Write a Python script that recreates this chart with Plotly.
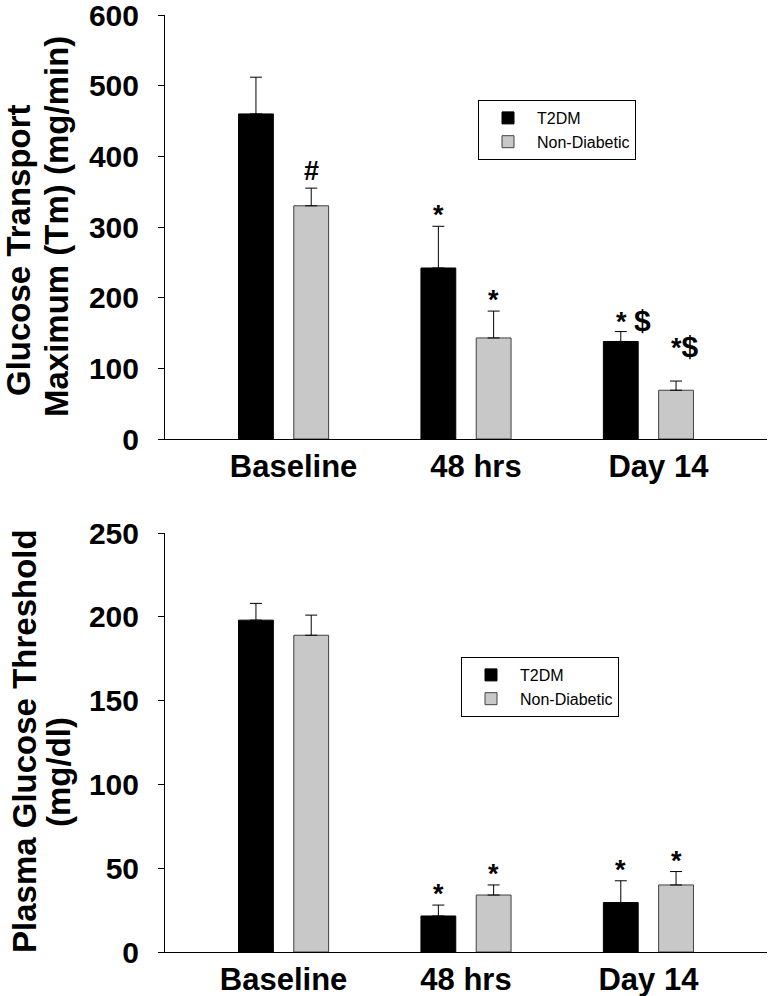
import plotly.graph_objects as go

# ---------------- data ----------------
categories = ["Baseline", "48 hrs", "Day 14"]

tm_t2dm = [460, 242, 138]
tm_t2dm_err = [52, 59, 14]
tm_nd = [330, 143, 69]
tm_nd_err = [25, 38, 13]
tm_t2dm_sig = ["", "*", "* $"]
tm_nd_sig = ["#", "*", "*$"]

pgt_t2dm = [198, 21.5, 29.5]
pgt_t2dm_err = [10, 6.5, 13]
pgt_nd = [189, 34, 40]
pgt_nd_err = [12, 6, 8]
pgt_t2dm_sig = ["", "*", "*"]
pgt_nd_sig = ["", "*", "*"]

tm_ticks = [0, 100, 200, 300, 400, 500, 600]
pgt_ticks = [0, 50, 100, 150, 200, 250]

tm_title = ["Glucose Transport", "Maximum (Tm) (mg/min)"]
pgt_title = ["Plasma Glucose Threshold", "(mg/dl)"]

# ---------------- style ----------------
FONT = "Arial, 'Liberation Sans', sans-serif"
BLACK = "#000000"
GRAY = "#c8c8c8"
GRAY_LINE = "#404040"
W, H = 773, 996
BARGAP = 0.394
BARGROUPGAP = 0.37
SLOT = (1 - BARGAP) / 2
xpos = list(range(len(categories)))

fig = go.Figure()


def add_bars(vals, errs, name, color, line_color, xa, ya, legend):
    fig.add_trace(go.Bar(
        x=xpos, y=vals, name=name, xaxis=xa, yaxis=ya, legend=legend,
        marker=dict(color=color, line=dict(color=line_color, width=1)),
        error_y=dict(type="data", array=errs, arrayminus=[0] * len(errs),
                     symmetric=False, color="black", thickness=1, width=6),
    ))


add_bars(tm_t2dm, tm_t2dm_err, "T2DM", BLACK, BLACK, "x", "y", "legend")
add_bars(tm_nd, tm_nd_err, "Non-Diabetic", GRAY, GRAY_LINE, "x", "y", "legend")
add_bars(pgt_t2dm, pgt_t2dm_err, "T2DM", BLACK, BLACK, "x2", "y2", "legend2")
add_bars(pgt_nd, pgt_nd_err, "Non-Diabetic", GRAY, GRAY_LINE, "x2", "y2", "legend2")


def add_sig(labels, vals, errs, side, xref, yref, extra=None):
    for i, lab in enumerate(labels):
        if not lab:
            continue
        txt = lab.replace(" ", "&nbsp;").replace(
            "$", "<span style='font-size:30px'>$</span>")
        ys = 11 if lab.startswith("*") else 17
        if extra:
            ys += extra[i]
        xs = 0
        if "$" in lab:
            xs = 13 if " " in lab else 9
        fig.add_annotation(
            x=i + side * SLOT / 2, y=vals[i] + errs[i], xref=xref, yref=yref,
            text=f"<b>{txt}</b>", showarrow=False, yanchor="middle",
            xanchor="center", yshift=ys, xshift=xs,
            font=dict(family=FONT, size=27, color="black"),
        )


add_sig(tm_t2dm_sig, tm_t2dm, tm_t2dm_err, -1, "x", "y")
add_sig(tm_nd_sig, tm_nd, tm_nd_err, +1, "x", "y", extra=[0, 0, 24])
add_sig(pgt_t2dm_sig, pgt_t2dm, pgt_t2dm_err, -1, "x2", "y2")
add_sig(pgt_nd_sig, pgt_nd, pgt_nd_err, +1, "x2", "y2")


# y-axis titles (two lines each, drawn as rotated text)
def add_title(lines, centers):
    for line, (cx, cy) in zip(lines, centers):
        fig.add_annotation(
            x=cx / W, y=1 - cy / H, xref="paper", yref="paper", showarrow=False,
            text=f"<b>{line}</b>", textangle=-90, xanchor="center",
            yanchor="middle", font=dict(family=FONT, size=33, color="black"),
        )


add_title(tm_title, [(18, 250), (57, 227)])
add_title(pgt_title, [(24, 741), (58, 772)])

xdom = [165 / W, 767 / W]
xaxis_common = dict(
    range=[-0.65, 2.65], tickvals=xpos, ticktext=[f"<b>{c}</b>" for c in categories],
    showline=True, linecolor="black", linewidth=1, ticks="", showgrid=False,
    zeroline=False, tickfont=dict(family=FONT, size=31, color="black"),
    automargin=False, domain=xdom, fixedrange=True,
)
yaxis_common = dict(
    showline=True, linecolor="black", linewidth=1, ticks="outside", ticklen=6,
    tickcolor="black", showgrid=False, zeroline=False,
    tickfont=dict(family=FONT, size=30, color="black"), automargin=False,
    ticklabelstandoff=13, ticklabeloverflow="allow", fixedrange=True,
)

legend_common = dict(
    xanchor="left", yanchor="top", bordercolor="black", borderwidth=1,
    bgcolor="white", font=dict(family=FONT, size=16, color="black"),
    itemwidth=48, tracegroupgap=0,
)

fig.update_layout(
    width=W, height=H, margin=dict(l=0, r=0, t=0, b=0),
    paper_bgcolor="white", plot_bgcolor="white",
    barmode="group", bargap=BARGAP, bargroupgap=BARGROUPGAP,
    xaxis=dict(**xaxis_common, anchor="y", ticklabelshift=10),
    xaxis2=dict(**xaxis_common, anchor="y2"),
    yaxis=dict(**yaxis_common, range=[0, 600], tickvals=tm_ticks,
               ticktext=[f"<b>{t}</b>" for t in tm_ticks],
               domain=[1 - 439 / H, 1 - 15 / H], anchor="x"),
    yaxis2=dict(**yaxis_common, range=[0, 250], tickvals=pgt_ticks,
                ticktext=[f"<b>{t}</b>" for t in pgt_ticks],
                domain=[1 - 952 / H, 1 - 533 / H], anchor="x2"),
    legend=dict(**legend_common, x=478 / W, y=1 - 100 / H),
    legend2=dict(**legend_common, x=461 / W, y=1 - 657 / H),
    showlegend=True,
)

fig.write_html(
    "out.html",
    config={"displayModeBar": False},
    post_script="document.body.style.margin='0px';document.body.style.overflow='hidden';",
)
